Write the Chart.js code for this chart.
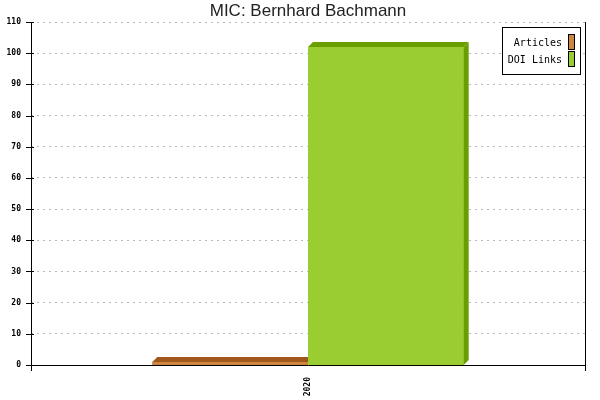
<!DOCTYPE html>
<html>
<head>
<meta charset="utf-8">
<script src="https://cdn.jsdelivr.net/npm/chart.js@4/dist/chart.umd.min.js"></script>
<style>
html,body{margin:0;padding:0;background:#fff;}
#wrap{width:600px;height:400px;}
</style>
</head>
<body>
<div id="wrap"><canvas id="c" width="600" height="400"></canvas></div>
<script>
const titleText = "MIC: Bernhard Bachmann";
const categories = ["2020"];
const articles = [1];
const doiLinks = [102];
const seriesNames = ["Articles", "DOI Links"];
const frontColors = ["#CD853F", "#9ACD32"];
const darkColors = ["#A0581A", "#6B9E00"];
const yMax = 110, yStep = 10;

const DEPTH = 5;

const drawPlugin = {
  id: 'custom3d',
  afterDatasetsDraw(chart) {
    const ctx = chart.ctx;
    ctx.save();
    chart.data.datasets.forEach((ds, i) => {
      const meta = chart.getDatasetMeta(i);
      meta.data.forEach(bar => {
        const left = bar.x - bar.width / 2, right = bar.x + bar.width / 2;
        const top = bar.y, bottom = bar.base;
        ctx.fillStyle = ds.backgroundColor;
        ctx.fillRect(left, top, right - left, bottom - top);
        ctx.fillStyle = ds.darkColor;
        ctx.beginPath();
        ctx.moveTo(left, top);
        ctx.lineTo(left + DEPTH, top - DEPTH);
        ctx.lineTo(right + DEPTH, top - DEPTH);
        ctx.lineTo(right, top);
        ctx.closePath();
        ctx.fill();
        ctx.beginPath();
        ctx.moveTo(right, top);
        ctx.lineTo(right + DEPTH, top - DEPTH);
        ctx.lineTo(right + DEPTH, bottom - DEPTH);
        ctx.lineTo(right, bottom);
        ctx.closePath();
        ctx.fill();
      });
    });
    ctx.restore();
  },
  afterDraw(chart) {
    const ctx = chart.ctx;
    const a = chart.chartArea;
    const ys = chart.scales.y;
    ctx.save();
    ctx.strokeStyle = '#000';
    ctx.lineWidth = 1;
    ctx.beginPath();
    ctx.moveTo(Math.round(a.left) + 0.5, a.top);
    ctx.lineTo(Math.round(a.left) + 0.5, a.bottom + 6);
    ctx.moveTo(Math.round(a.right) + 0.5, a.top);
    ctx.lineTo(Math.round(a.right) + 0.5, a.bottom + 6);
    ctx.moveTo(a.left, Math.round(a.bottom) + 0.5);
    ctx.lineTo(a.right + 1, Math.round(a.bottom) + 0.5);
    for (let v = 0; v <= yMax; v += yStep) {
      const y = Math.round(ys.getPixelForValue(v)) + 0.5;
      ctx.moveTo(a.left - 5, y);
      ctx.lineTo(a.left + 3, y);
    }
    ctx.stroke();

    ctx.fillStyle = '#222';
    ctx.font = '17px "Liberation Sans", Arial, sans-serif';
    ctx.textAlign = 'center';
    ctx.textBaseline = 'middle';
    ctx.fillText(titleText, (a.left + a.right) / 2, 11);

    const lx = 502.5, ly = 27.5, lw = 78, lh = 47;
    ctx.fillStyle = '#fff';
    ctx.fillRect(lx, ly, lw, lh);
    ctx.strokeStyle = '#000';
    ctx.strokeRect(lx, ly, lw, lh);
    ctx.font = '10px "DejaVu Sans Mono", monospace';
    ctx.textAlign = 'right';
    chart.data.datasets.forEach((ds, i) => {
      const cy = 43 + i * 17;
      ctx.fillStyle = '#000';
      ctx.fillText(ds.label, 562, cy);
      ctx.fillStyle = ds.backgroundColor;
      ctx.fillRect(568.5, cy - 8.5, 6, 15);
      ctx.strokeStyle = '#000';
      ctx.strokeRect(568.5, cy - 8.5, 6, 15);
    });
    ctx.restore();
  }
};

new Chart(document.getElementById('c'), {
  type: 'bar',
  data: {
    labels: categories,
    datasets: [
      { label: seriesNames[0], data: articles, backgroundColor: frontColors[0], darkColor: darkColors[0] },
      { label: seriesNames[1], data: doiLinks, backgroundColor: frontColors[1], darkColor: darkColors[1] }
    ]
  },
  options: {
    responsive: false,
    animation: false,
    devicePixelRatio: 1,
    layout: { padding: { top: 22, right: 15, left: 0, bottom: 0 } },
    categoryPercentage: 0.562,
    barPercentage: 1,
    plugins: {
      legend: { display: false },
      title: { display: false },
      tooltip: { enabled: false }
    },
    scales: {
      x: {
        grid: { display: false, drawTicks: false },
        border: { display: false },
        ticks: {
          maxRotation: 90, minRotation: 90,
          font: { family: '"DejaVu Sans Mono", monospace', size: 8, weight: 'bold' },
          color: '#000',
          padding: 12
        },
        afterFit(s) { s.height = 35; }
      },
      y: {
        min: 0, max: yMax,
        grid: {
          color: '#bbb',
          drawTicks: false,
          lineWidth: (c) => c.tick && c.tick.value === 0 ? 0 : 1
        },
        border: { display: false, dash: [2, 4] },
        ticks: {
          stepSize: yStep,
          font: { family: '"DejaVu Sans Mono", monospace', size: 8, weight: 'bold' },
          color: '#000',
          padding: 10
        },
        afterFit(s) { s.width = 31; }
      }
    }
  },
  plugins: [drawPlugin]
});
</script>
</body>
</html>
